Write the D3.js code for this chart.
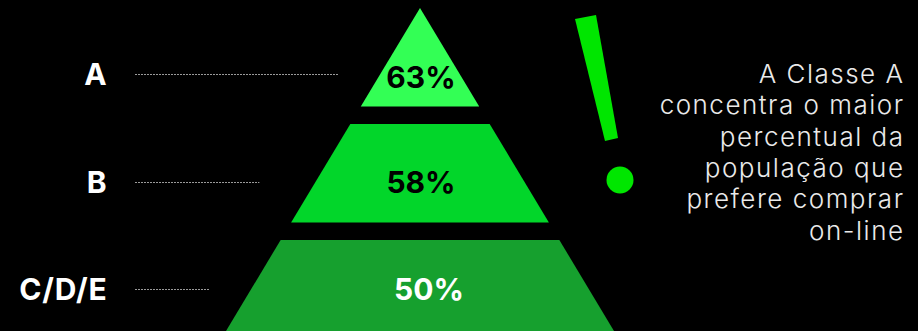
<!DOCTYPE html>
<html>
<head>
<meta charset="utf-8">
<script src="https://cdn.jsdelivr.net/npm/d3@7"></script>
<style>
  html, body { margin: 0; padding: 0; background: #000; }
  svg { display: block; }
</style>
</head>
<body>
<svg id="chart"></svg>
<script>
// data
const classes = ['A', 'B', 'C/D/E']
const percents = [63, 58, 50]
const classColors = ['#33FF55', '#02D62A', '#16A02E']
const percentColors = ['#000', '#000', '#fff']
const noteLines = [
  'A Classe A',
  'concentra o maior',
  'percentual da',
  'população que',
  'prefere comprar',
  'on-line'
]

const width = 918
const height = 331
const apexX = 420
const apexY = 8

const svg = d3.select('#chart').attr('width', width).attr('height', height)
svg.append('rect').attr('width', width).attr('height', height).attr('fill', '#000')

// vertical bands of the pyramid
const y = d3.scaleBand()
  .domain(classes)
  .range([apexY, apexY + 116 * (3 - 0.15)])
  .paddingInner(0.15)
  .paddingOuter(0)

// half width of the pyramid at a given y
const halfW = d3.scaleLinear().domain([apexY, height]).range([0, 194])

// where the label / percent sits inside each band (fraction of band height)
const textPos = [0.67, 0.59, 0.5]
const lineGap = [42, 56, 42]

const rows = classes.map((c, i) => ({
  cls: c,
  pct: percents[i],
  color: classColors[i],
  pctColor: percentColors[i],
  y0: y(c),
  y1: y(c) + y.bandwidth(),
  ty: y(c) + y.bandwidth() * textPos[i],
  gap: lineGap[i]
}))

svg.selectAll('path.band')
  .data(rows)
  .enter()
  .append('path')
  .attr('class', 'band')
  .attr('fill', d => d.color)
  .attr('d', d => {
    const t = halfW(d.y0)
    const b = halfW(d.y1)
    return `M${apexX - t},${d.y0}L${apexX + t},${d.y0}L${apexX + b},${d.y1}L${apexX - b},${d.y1}Z`
  })

svg.selectAll('text.pct')
  .data(rows)
  .enter()
  .append('text')
  .attr('class', 'pct')
  .attr('x', (d, i) => apexX + (i === 2 ? 9 : 1))
  .attr('y', (d, i) => d.ty + (i === 0 ? 3 : 0))
  .attr('dy', '0.36em')
  .attr('text-anchor', 'middle')
  .attr('font-family', 'Inter, sans-serif')
  .attr('font-weight', 700)
  .attr('font-size', 30)
  .attr('fill', d => d.pctColor)
  .text(d => d.pct + '%')

// category labels
svg.selectAll('text.cls')
  .data(rows)
  .enter()
  .append('text')
  .attr('class', 'cls')
  .attr('x', 107.5)
  .attr('y', d => d.ty)
  .attr('dy', '0.36em')
  .attr('text-anchor', 'end')
  .attr('font-family', 'Inter, sans-serif')
  .attr('font-weight', 700)
  .attr('font-size', 30)
  .attr('letter-spacing', 0.8)
  .attr('fill', '#fff')
  .text(d => d.cls)

// dotted leader lines
svg.selectAll('line.leader')
  .data(rows)
  .enter()
  .append('line')
  .attr('class', 'leader')
  .attr('x1', 135)
  .attr('x2', d => apexX - halfW(d.ty) - d.gap)
  .attr('y1', d => Math.round(d.ty) + 0.5)
  .attr('y2', d => Math.round(d.ty) + 0.5)
  .attr('stroke', '#9a9a9a')
  .attr('stroke-width', 1)
  .attr('stroke-dasharray', '2,1')

// exclamation mark
const bang = svg.append('g').attr('fill', '#00E600')
bang.append('path').attr('d', 'M575,19L596,15L618,138L605,141Z')
bang.append('circle').attr('cx', 620).attr('cy', 180).attr('r', 13.5)

// note on the right
svg.append('g')
  .selectAll('text')
  .data(noteLines)
  .enter()
  .append('text')
  .attr('x', 904.5)
  .attr('y', (d, i) => 83 + i * 31.3)
  .attr('text-anchor', 'end')
  .attr('font-family', 'Inter, sans-serif')
  .attr('font-weight', 300)
  .attr('font-size', 26)
  .attr('letter-spacing', 1.5)
  .attr('fill', '#eaeaea')
  .text(d => d)
</script>
</body>
</html>
